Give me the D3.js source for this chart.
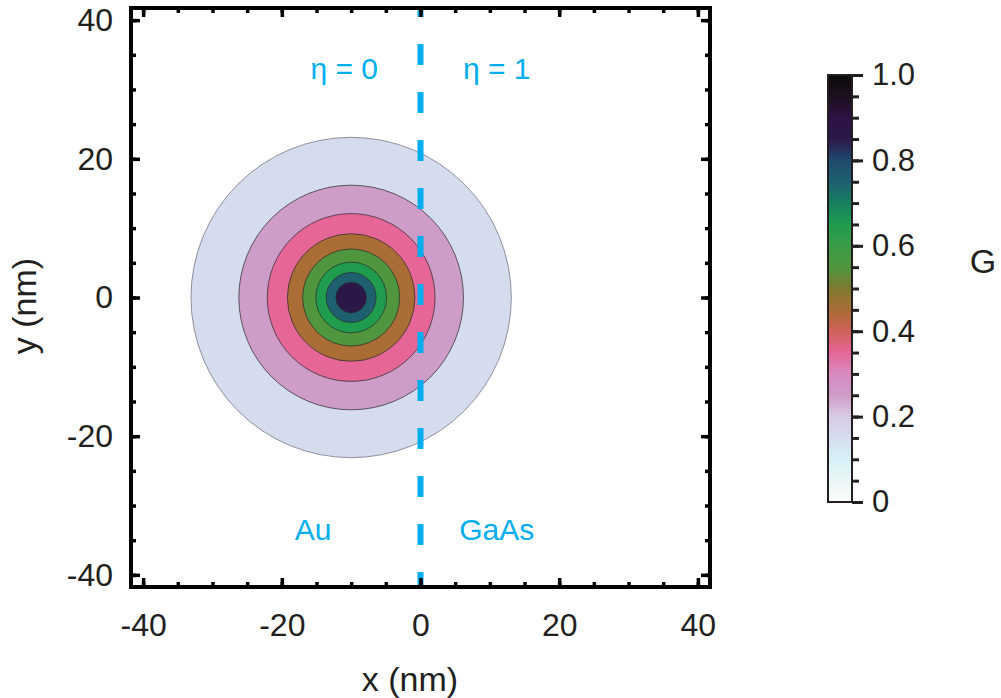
<!DOCTYPE html>
<html>
<head>
<meta charset="utf-8">
<script src="https://cdn.jsdelivr.net/npm/d3@7"></script>
<style>
  html, body { margin: 0; padding: 0; background: #fff; }
  svg { display: block; }
  text { font-family: "Liberation Sans", Arial, Helvetica, sans-serif; fill: #231f20; }
</style>
</head>
<body>
<svg id="chart" width="1001" height="698"></svg>
<script>
// ---------------- data ----------------
const xTicks = [-40, -20, 0, 20, 40];
const yTicks = [-40, -20, 0, 20, 40];
const xMinorTicks = d3.range(-40, 40.1, 5);
const yMinorTicks = d3.range(-40, 40.1, 5);
const spotCenter = [-10, 0];                       // nm
const contourLevels = [0.1, 0.2, 0.3, 0.4, 0.5, 0.6, 0.7, 0.8];
const contourRadii = [23.1, 16.2, 12.1, 9.2, 7.0, 5.1, 3.6, 2.2]; // nm
const colorbarTicks = [0, 0.2, 0.4, 0.6, 0.8, 1.0];
const colorbarMinor = d3.range(0, 1.0001, 0.05);
const cmapStops = [0, 0.05, 0.1, 0.15, 0.2, 0.25, 0.3, 0.35, 0.4, 0.45, 0.5, 0.55, 0.6, 0.65, 0.7, 0.75, 0.8, 0.85, 0.9, 0.95, 1.0];
const cmapColors = ["#fafcfa", "#eaf6f6", "#d8f0f7", "#d5dcee", "#d8cce3", "#cd9cc7", "#d68bbf", "#e66697",
                    "#d0605a", "#a96d35", "#7e7a30", "#50963f", "#3a9c48", "#1f9c4e", "#178060", "#1e6070",
                    "#1e4a6e", "#2b1848", "#2d1245", "#1e0f1e", "#0a0a0a"];
const interfaceX = 0;
const regionLabels = [
  {text: "η = 0", x: -11, y: 33},
  {text: "η = 1", x: 11, y: 33},
  {text: "Au", x: -15.5, y: -33.5},
  {text: "GaAs", x: 11, y: -33.5}
];

// ---------------- layout ----------------
const svg = d3.select("#chart");
const plot = {left: 131, right: 710, top: 8, bottom: 587};
const x = d3.scaleLinear().domain([-41.75, 41.75]).range([plot.left, plot.right]);
const y = d3.scaleLinear().domain([-41.75, 41.75]).range([plot.bottom, plot.top]);
const cmap = d3.scaleLinear().domain(cmapStops).range(cmapColors).interpolate(d3.interpolateRgb);

const blue = "#00aeef";
const tickFont = 32;
const titleFont = 34;

// clip
svg.append("defs").append("clipPath").attr("id", "plotclip")
  .append("rect").attr("x", plot.left).attr("y", plot.top)
  .attr("width", plot.right - plot.left).attr("height", plot.bottom - plot.top);

// ---------------- contour rings ----------------
const g = svg.append("g").attr("clip-path", "url(#plotclip)");
const rings = contourLevels.map((lv, i) => ({level: lv, r: contourRadii[i]}));
g.selectAll("circle.ring").data(rings).join("circle")
  .attr("class", "ring")
  .attr("cx", x(spotCenter[0]))
  .attr("cy", y(spotCenter[1]))
  .attr("r", d => x(spotCenter[0] + d.r) - x(spotCenter[0]))
  .attr("fill", d => cmap(d.level === 0.8 ? 0.85 : d.level + 0.05))
  .attr("stroke", (d, i) => i === 0 ? "#6a6a7a" : "#2a2a2a")
  .attr("stroke-opacity", 0.8)
  .attr("stroke-width", 0.9);

// ---------------- dashed interface ----------------
svg.append("line")
  .attr("x1", x(interfaceX)).attr("x2", x(interfaceX))
  .attr("y1", plot.top).attr("y2", plot.bottom)
  .attr("stroke", blue).attr("stroke-width", 6)
  .attr("stroke-dasharray", "21 27").attr("stroke-dashoffset", 12);

// region labels
svg.selectAll("text.region").data(regionLabels).join("text")
  .attr("class", "region")
  .attr("x", d => x(d.x)).attr("y", d => y(d.y))
  .attr("text-anchor", "middle").attr("dominant-baseline", "central")
  .style("fill", blue).style("font-size", "30px")
  .text(d => d.text);

// ---------------- axes ----------------
const fmt = d => String(d);
function styleAxis(sel) {
  sel.select(".domain").remove();
  sel.selectAll(".tick line").attr("stroke", "#000").attr("stroke-width", 3.5);
  sel.selectAll(".tick text").style("font-size", tickFont + "px").attr("fill", "#000");
}
// bottom
svg.append("g").attr("transform", `translate(0,${plot.bottom})`)
  .call(d3.axisBottom(x).tickValues(xMinorTicks).tickSize(-5).tickFormat(""))
  .call(styleAxis);
svg.append("g").attr("transform", `translate(0,${plot.bottom})`)
  .call(d3.axisBottom(x).tickValues(xTicks).tickSize(-9).tickPadding(26).tickFormat(fmt))
  .call(styleAxis);
// top
svg.append("g").attr("transform", `translate(0,${plot.top})`)
  .call(d3.axisTop(x).tickValues(xMinorTicks).tickSize(-5).tickFormat(""))
  .call(styleAxis);
svg.append("g").attr("transform", `translate(0,${plot.top})`)
  .call(d3.axisTop(x).tickValues(xTicks).tickSize(-9).tickFormat(""))
  .call(styleAxis);
// left
svg.append("g").attr("transform", `translate(${plot.left},0)`)
  .call(d3.axisLeft(y).tickValues(yMinorTicks).tickSize(-5).tickFormat(""))
  .call(styleAxis);
svg.append("g").attr("transform", `translate(${plot.left},0)`)
  .call(d3.axisLeft(y).tickValues(yTicks).tickSize(-9).tickPadding(18).tickFormat(fmt))
  .call(styleAxis);
// right
svg.append("g").attr("transform", `translate(${plot.right},0)`)
  .call(d3.axisRight(y).tickValues(yMinorTicks).tickSize(-5).tickFormat(""))
  .call(styleAxis);
svg.append("g").attr("transform", `translate(${plot.right},0)`)
  .call(d3.axisRight(y).tickValues(yTicks).tickSize(-9).tickFormat(""))
  .call(styleAxis);

// frame
svg.append("rect")
  .attr("x", plot.left).attr("y", plot.top)
  .attr("width", plot.right - plot.left).attr("height", plot.bottom - plot.top)
  .attr("fill", "none").attr("stroke", "#000").attr("stroke-width", 4);

// axis titles
svg.append("text").attr("x", 410).attr("y", 679)
  .attr("text-anchor", "middle").attr("dominant-baseline", "central")
  .style("font-size", titleFont + "px").text("x (nm)");
svg.append("text").attr("transform", `translate(24,306) rotate(-90)`)
  .attr("text-anchor", "middle").attr("dominant-baseline", "central")
  .style("font-size", titleFont + "px").text("y (nm)");

// ---------------- colorbar ----------------
const cb = {x: 828, w: 24, top: 75, bottom: 502};
const cy = d3.scaleLinear().domain([0, 1]).range([cb.bottom, cb.top]);
const grad = svg.select("defs").append("linearGradient").attr("id", "cbgrad")
  .attr("x1", 0).attr("x2", 0).attr("y1", 1).attr("y2", 0);
grad.selectAll("stop").data(cmapStops).join("stop")
  .attr("offset", d => d).attr("stop-color", d => cmap(d));
svg.append("rect").attr("x", cb.x).attr("y", cb.top).attr("width", cb.w).attr("height", cb.bottom - cb.top)
  .attr("fill", "url(#cbgrad)").attr("stroke", "#231f20").attr("stroke-width", 2);

function styleCb(sel) {
  sel.select(".domain").remove();
  sel.selectAll(".tick line").attr("stroke", "#231f20").attr("stroke-width", 3);
  sel.selectAll(".tick text").style("font-size", "31px").attr("fill", "#000");
}
svg.append("g").attr("transform", `translate(${cb.x + cb.w},0)`)
  .call(d3.axisRight(cy).tickValues(colorbarMinor).tickSize(7).tickFormat(""))
  .call(styleCb);
svg.append("g").attr("transform", `translate(${cb.x + cb.w},0)`)
  .call(d3.axisRight(cy).tickValues(colorbarTicks).tickSize(11).tickPadding(9)
    .tickFormat(d => d === 0 ? "0" : d3.format(".1f")(d)))
  .call(styleCb);

svg.append("text").attr("x", 983).attr("y", 261)
  .attr("text-anchor", "middle").attr("dominant-baseline", "central")
  .style("font-size", "34px").text("G");
</script>
</body>
</html>
